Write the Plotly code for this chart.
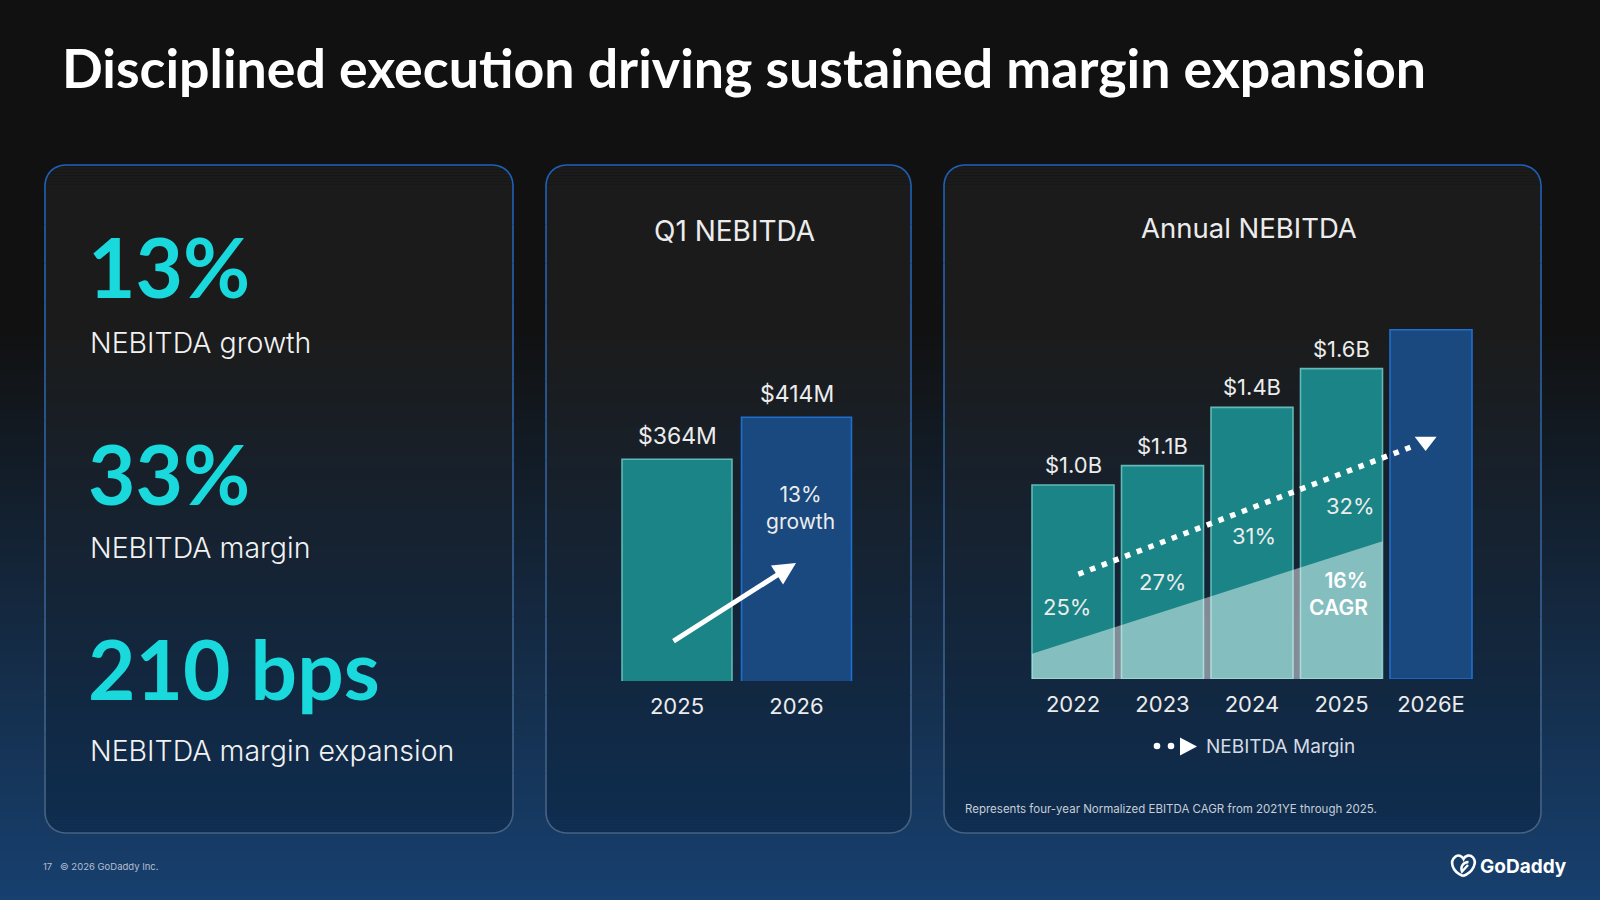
import math
import plotly.graph_objects as go

W, H = 1600, 900

# ---------------- data ----------------
title_text = "Disciplined execution driving sustained margin expansion"
kpi_values = ["13%", "33%", "210 bps"]
kpi_labels = ["NEBITDA growth", "NEBITDA margin", "NEBITDA margin expansion"]

q1_title = "Q1 NEBITDA"
q1_years = ["2025", "2026"]
q1_nebitda_m = [364, 414]
q1_growth_pct = 13

annual_title = "Annual NEBITDA"
annual_years = ["2022", "2023", "2024", "2025", "2026E"]
annual_nebitda_b = [1.0, 1.1, 1.4, 1.6, 1.8]
annual_has_label = [True, True, True, True, False]
annual_margin_pct = [25, 27, 31, 32]
cagr_pct = 16
cagr_wedge_b = [0.13, 0.71]      # CAGR wedge height at left / right end ($B scale)
trend_x = [0.06, 3.8]            # NEBITDA margin trend arrow (dotted)
trend_y = [0.54, 1.2]
legend_text = "NEBITDA Margin"
footnote = "Represents four-year Normalized EBITDA CAGR from 2021YE through 2025."
page_no = "17"
copyright_text = "© 2026 GoDaddy Inc."
logo_text = "GoDaddy"

# ---------------- styles / layout ----------------
FONT = "Inter"
TITLE_FONT = "Lato"
TEXT = "#ececec"
CYAN = "#19d9dc"
TEAL, TEAL_LINE = "#1a8486", "#62b9b8"
BLUE, BLUE_LINE = "#19497f", "#1f6fd1"

BG_TOP, BG_BOT = (17, 17, 17), (23, 64, 111)
PANEL_TOP, PANEL_BOT = (27, 27, 27), (14, 45, 80)
BORDER_TOP, BORDER_BOT = (30, 98, 188), (72, 98, 128)
PANELS = [(45, 513), (546, 911), (944, 1541)]
P_TOP, P_BOT, RAD = 165, 833, 20

MARGIN_LABEL_POS = [(-0.07, 0.37), (0.0, 0.50), (0.02, 0.735), (0.1, 0.89)]


def px(x):
    return x / W


def py(y):
    return 1 - y / H


def clamp(t):
    return max(0.0, min(1.0, t))


def lerp(c0, c1, t):
    return tuple(a + (b - a) * t for a, b in zip(c0, c1))


def rgb(c):
    return "rgb(%d,%d,%d)" % tuple(round(v) for v in c)


shapes = []

# background gradient
y = 300
while y < H:
    y1 = min(y + 5, H)
    t = clamp((y + 2.5 - 330) / (H - 330))
    shapes.append(dict(type="rect", xref="paper", yref="paper", x0=0, x1=1,
                       y0=py(min(y1 + 1, H)), y1=py(y), fillcolor=rgb(lerp(BG_TOP, BG_BOT, t)),
                       line=dict(width=0), layer="below"))
    y = y1

# panels: gradient fill bands with rounded corners
for (x0, x1) in PANELS:
    y = P_TOP
    while y < P_BOT:
        in_corner = (y < P_TOP + RAD) or (y >= P_BOT - RAD)
        step = 1.5 if in_corner else 6
        yb = min(y + step, P_BOT)
        ym = (y + yb) / 2
        inset = 0
        if ym < P_TOP + RAD:
            dy = P_TOP + RAD - ym
            inset = RAD - math.sqrt(max(RAD * RAD - dy * dy, 0))
        elif ym > P_BOT - RAD:
            dy = ym - (P_BOT - RAD)
            inset = RAD - math.sqrt(max(RAD * RAD - dy * dy, 0))
        t = clamp((ym - 330) / (P_BOT - 330))
        shapes.append(dict(type="rect", xref="paper", yref="paper",
                           x0=px(x0 + inset), x1=px(x1 - inset),
                           y0=py(min(yb + (0 if in_corner else 1), P_BOT)), y1=py(y),
                           fillcolor=rgb(lerp(PANEL_TOP, PANEL_BOT, t)),
                           line=dict(width=0), layer="below"))
        y = yb


def rounded_points(x0, y0, x1, y1, r, n_arc=6, n_side=16):
    pts = [(x0 + r, y0), (x1 - r, y0)]
    for k in range(1, n_arc + 1):
        a = -math.pi / 2 + k * (math.pi / 2) / n_arc
        pts.append((x1 - r + r * math.cos(a), y0 + r + r * math.sin(a)))
    for k in range(1, n_side + 1):
        pts.append((x1, y0 + r + (y1 - y0 - 2 * r) * k / n_side))
    for k in range(1, n_arc + 1):
        a = k * (math.pi / 2) / n_arc
        pts.append((x1 - r + r * math.cos(a), y1 - r + r * math.sin(a)))
    pts.append((x0 + r, y1))
    for k in range(1, n_arc + 1):
        a = math.pi / 2 + k * (math.pi / 2) / n_arc
        pts.append((x0 + r + r * math.cos(a), y1 - r + r * math.sin(a)))
    for k in range(1, n_side + 1):
        pts.append((x0, y1 - r - (y1 - y0 - 2 * r) * k / n_side))
    for k in range(1, n_arc + 1):
        a = math.pi + k * (math.pi / 2) / n_arc
        pts.append((x0 + r + r * math.cos(a), y0 + r + r * math.sin(a)))
    return pts


for (x0, x1) in PANELS:
    pts = rounded_points(x0, P_TOP, x1, P_BOT, RAD)
    for i in range(len(pts) - 1):
        (ax_, ay_), (bx_, by_) = pts[i], pts[i + 1]
        t = clamp(((ay_ + by_) / 2 - P_TOP) / (P_BOT - P_TOP))
        shapes.append(dict(type="path", xref="paper", yref="paper",
                           path="M%.6f,%.6f L%.6f,%.6f" % (px(ax_), py(ay_), px(bx_), py(by_)),
                           line=dict(color=rgb(lerp(BORDER_TOP, BORDER_BOT, t)), width=1.6),
                           layer="below"))

# legend symbols for the margin trend
for cx in (1157, 1171):
    shapes.append(dict(type="circle", xref="paper", yref="paper",
                       x0=px(cx - 3.3), x1=px(cx + 3.3), y0=py(746 + 3.3), y1=py(746 - 3.3),
                       fillcolor="white", line=dict(width=0)))
shapes.append(dict(type="path", xref="paper", yref="paper",
                   path="M%.6f,%.6f L%.6f,%.6f L%.6f,%.6f Z" % (px(1180), py(737.5), px(1180), py(755.5), px(1197), py(746.5)),
                   fillcolor="white", line=dict(width=0)))

# GoDaddy logo glyph
shapes.append(dict(type="path", xref="paper", yref="paper",
                   path=("M%.6f,%.6f C%.6f,%.6f %.6f,%.6f %.6f,%.6f C%.6f,%.6f %.6f,%.6f %.6f,%.6f "
                         "C%.6f,%.6f %.6f,%.6f %.6f,%.6f C%.6f,%.6f %.6f,%.6f %.6f,%.6f") % (
                       px(1463), py(876), px(1451), py(871), px(1450), py(861), px(1455), py(857),
                       px(1458), py(854), px(1462), py(856), px(1463.5), py(859),
                       px(1465), py(855.5), px(1470), py(854), px(1473), py(857.5),
                       px(1477), py(862), px(1474), py(872), px(1463), py(876)),
                   line=dict(color="white", width=2.6)))
shapes.append(dict(type="path", xref="paper", yref="paper",
                   path="M%.6f,%.6f C%.6f,%.6f %.6f,%.6f %.6f,%.6f L%.6f,%.6f" % (
                       px(1468.5), py(862), px(1463), py(862), px(1460), py(867), px(1462), py(871.5),
                       px(1468), py(865)),
                   line=dict(color="white", width=2.4)))

annotations = []


def ann(text, x, y, size, color=TEXT, xanchor="left", yanchor="middle", family=FONT, weight=None, align="left", **kw):
    f = dict(family=family, size=size, color=color)
    if weight is not None:
        f["weight"] = weight
    d = dict(text=text, x=px(x), y=py(y), xref="paper", yref="paper", showarrow=False,
             xanchor=xanchor, yanchor=yanchor, font=f, align=align)
    d.update(kw)
    annotations.append(d)


# title
ann(title_text, 60, 67, 53.7, color="white", family=TITLE_FONT, weight=700)

# KPI panel
kpi_val_y = [266, 473, 668]
kpi_lab_y = [342, 547, 750]
for v, lab, yv, yl in zip(kpi_values, kpi_labels, kpi_val_y, kpi_lab_y):
    ann(v, 86, yv, 82, color=CYAN, family=TITLE_FONT, weight=700)
    ann(lab, 88, yl, 28.5, color="#f2f2f2", weight=300)

# panel titles
ann(q1_title, 734, 231, 28, xanchor="center", weight=400)
ann(annual_title, 1249, 228, 27.5, xanchor="center", weight=400)

# Q1 growth text and arrow
ann("%d%%<br>growth" % q1_growth_pct, 800, 508, 21, xanchor="center", align="center")
annotations.append(dict(text="", x=px(796), y=py(563), xref="paper", yref="paper",
                        ax=672 - 796, ay=642 - 563, axref="pixel", ayref="pixel",
                        showarrow=True, arrowhead=2, arrowsize=0.9, arrowwidth=5,
                        arrowcolor="white", standoff=0, startstandoff=0))

q1_x = list(range(len(q1_years)))
annual_x = list(range(len(annual_years)))

# Q1 bar value labels
for i, v in zip(q1_x, q1_nebitda_m):
    annotations.append(dict(text="$%dM" % v, x=i, y=v, xref="x", yref="y", showarrow=False,
                            xanchor="center", yanchor="middle", yshift=23,
                            font=dict(family=FONT, size=23, color=TEXT)))

# annual bar value labels
for i, (v, has) in enumerate(zip(annual_nebitda_b, annual_has_label)):
    if has:
        annotations.append(dict(text="$%.1fB" % v, x=i, y=v, xref="x2", yref="y2", showarrow=False,
                                xanchor="center", yanchor="middle", yshift=20,
                                font=dict(family=FONT, size=22, color=TEXT)))

# margin labels
for i, (m, (dx, yy)) in enumerate(zip(annual_margin_pct, MARGIN_LABEL_POS)):
    annotations.append(dict(text="%d%%" % m, x=i + dx, y=yy, xref="x2", yref="y2", showarrow=False,
                            xanchor="center", yanchor="middle",
                            font=dict(family=FONT, size=22, color=TEXT)))

# CAGR label
ann("%d%%<br>CAGR" % cagr_pct, 1370, 594, 21, color="white", xanchor="right", align="right", weight=600)

# legend text, footnote, footer, logo
ann(legend_text, 1204, 746, 19, color="#d5dbe3")
ann(footnote, 963, 809, 11.5, color="#c6ced8")
ann(page_no, 41, 866, 9.5, color="#b3bfce")
ann(copyright_text, 58, 866, 9.5, color="#b3bfce")
ann(logo_text, 1478, 866, 19, color="white", weight=700)

# ---------------- traces ----------------
fig = go.Figure()

fig.add_trace(go.Bar(
    x=q1_x, y=q1_nebitda_m, xaxis="x", yaxis="y", width=0.92,
    marker=dict(color=[TEAL, BLUE], line=dict(color=[TEAL_LINE, BLUE_LINE], width=1.6)),
    hoverinfo="skip", showlegend=False))

fig.add_trace(go.Bar(
    x=annual_x, y=annual_nebitda_b, xaxis="x2", yaxis="y2", width=0.916,
    marker=dict(color=[TEAL] * 4 + [BLUE], line=dict(color=[TEAL_LINE] * 4 + [BLUE_LINE], width=1.6)),
    hoverinfo="skip", showlegend=False))

half = 0.458
fig.add_trace(go.Scatter(
    x=[-half, -half, 3 + half, 3 + half], y=[0, cagr_wedge_b[0], cagr_wedge_b[1], 0],
    xaxis="x2", yaxis="y2", mode="lines", fill="toself",
    fillcolor="rgba(255,255,255,0.47)", line=dict(width=0),
    hoverinfo="skip", showlegend=False))

fig.add_trace(go.Scatter(
    x=trend_x, y=trend_y, xaxis="x2", yaxis="y2", mode="lines",
    line=dict(color="white", width=5.5, dash="5.5px,7px"),
    hoverinfo="skip", showlegend=False))

slope = (trend_y[1] - trend_y[0]) / (trend_x[1] - trend_x[0])
head_dx = 0.14
fig.add_trace(go.Scatter(
    x=[trend_x[1] + head_dx], y=[trend_y[1] + slope * head_dx], xaxis="x2", yaxis="y2",
    mode="markers", marker=dict(symbol="triangle-down", size=19, color="white", line=dict(width=0)),
    hoverinfo="skip", showlegend=False))

# ---------------- axes ----------------
Q1_X = (617.25, 856.25)
Q1_BOTTOM, Q1_TOP = 681, 300
Q1_PX_PER_UNIT = 0.84
q1_base = 100
AN_X = (1028.25, 1475.75)
AN_BOTTOM, AN_TOP = 679, 300
AN_PX_PER_UNIT = 194

tickfont = dict(family=FONT, size=22, color=TEXT)
fig.update_layout(
    width=W, height=H, margin=dict(l=0, r=0, t=0, b=0),
    paper_bgcolor=rgb(BG_TOP), plot_bgcolor="rgba(0,0,0,0)",
    font=dict(family=FONT, color=TEXT),
    showlegend=False,
    shapes=shapes, annotations=annotations,
    xaxis=dict(domain=[px(Q1_X[0]), px(Q1_X[1])], anchor="y",
               range=[-0.5, 1.5], tickvals=q1_x, ticktext=q1_years,
               showgrid=False, zeroline=False, showline=False,
               ticks="", tickfont=tickfont, ticklabelstandoff=10, fixedrange=True),
    yaxis=dict(domain=[py(Q1_BOTTOM), py(Q1_TOP)], anchor="x",
               range=[q1_base, q1_base + (Q1_BOTTOM - Q1_TOP) / Q1_PX_PER_UNIT],
               visible=False, fixedrange=True),
    xaxis2=dict(domain=[px(AN_X[0]), px(AN_X[1])], anchor="y2",
                range=[-0.5, 4.5], tickvals=annual_x, ticktext=annual_years,
                showgrid=False, zeroline=False, showline=False,
                ticks="", tickfont=tickfont, ticklabelstandoff=10, fixedrange=True),
    yaxis2=dict(domain=[py(AN_BOTTOM), py(AN_TOP)], anchor="x2",
                range=[0, (AN_BOTTOM - AN_TOP) / AN_PX_PER_UNIT],
                visible=False, fixedrange=True),
)

fig.write_html("out.html", config=dict(displayModeBar=False))
